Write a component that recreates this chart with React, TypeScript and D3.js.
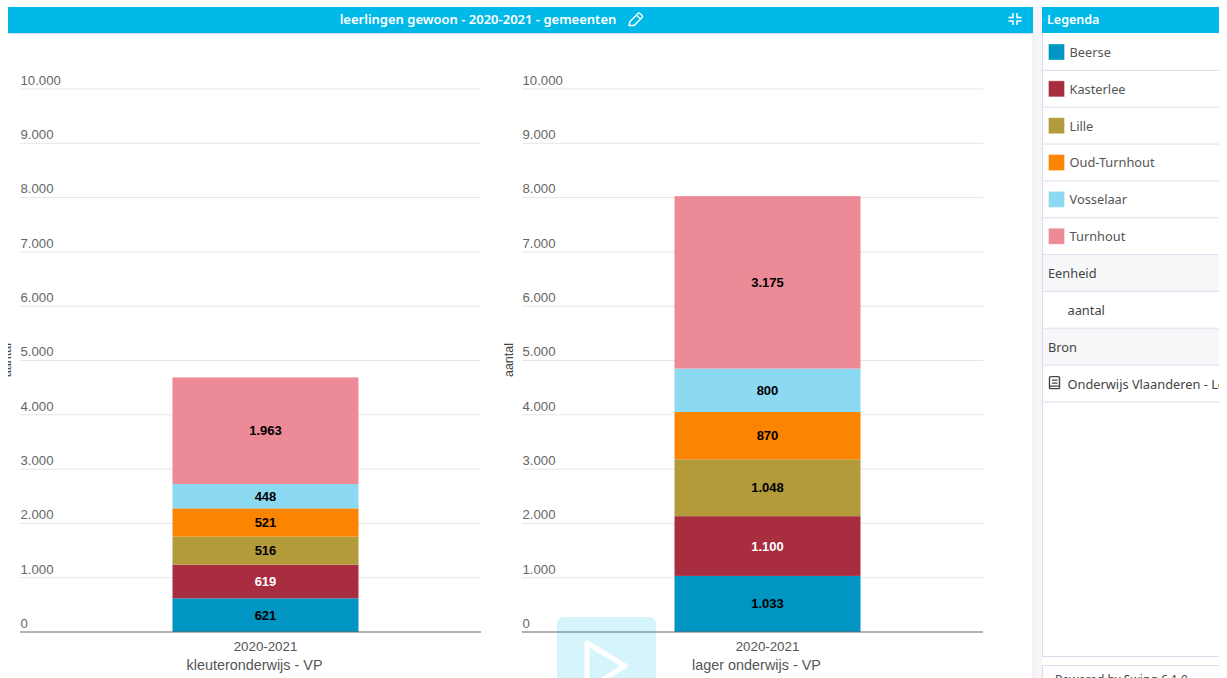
import React from "react";
import * as d3 from "d3";

const municipalities = ["Beerse", "Kasterlee", "Lille", "Oud-Turnhout", "Vosselaar", "Turnhout"];
const colors = ["#0095c2", "#a82e3f", "#b39a3b", "#fb8500", "#8cd9f2", "#ec8a97"];
const labelColors = ["#000", "#fff", "#000", "#000", "#000", "#000"];
const kleuterValues = [621, 619, 516, 521, 448, 1963];
const lagerValues = [1033, 1100, 1048, 870, 800, 3175];
const yTicks = [0, 1000, 2000, 3000, 4000, 5000, 6000, 7000, 8000, 9000, 10000];
const period = "2020-2021";
const title = "leerlingen gewoon - 2020-2021 - gemeenten";
const unitRows = ["aantal"];
const sourceRows = ["Onderwijs Vlaanderen - Leerlingen"];

const nl = d3.formatLocale({ decimal: ",", thousands: ".", grouping: [3], currency: ["€", ""] });
const fmt = nl.format(",d");
const y = d3.scaleLinear().domain([0, 10000]).range([632, 89]);

const chartFont = "'Liberation Sans', Arial, sans-serif";
const uiFont = "'Noto Sans', sans-serif";

function Panel({ x0, x1, values, cat, titleX, clipId }: any) {
  const xb = d3.scaleBand().domain([period]).range([x0 + 30, x1]);
  const cx = (xb(period) as number) + xb.bandwidth() / 2;
  const barW = 186;
  const stacked = d3.stack<any>().keys(municipalities)([
    Object.fromEntries(municipalities.map((m, i) => [m, values[i]])),
  ]);
  return (
    <g>
      {yTicks.slice(1).map((t) => (
        <line key={t} x1={x0} x2={x1} y1={y(t)} y2={y(t)} stroke="#e6e6e6" />
      ))}
      {yTicks.map((t) => (
        <text key={t} x={x0 + 0.5} y={y(t) - 4.2} fontFamily={chartFont} fontSize={13.2} fill="#666">
          {fmt(t)}
        </text>
      ))}
      {stacked.map((s, i) => (
        <rect key={i} x={cx - barW / 2} width={barW} y={y(s[0][1])} height={y(s[0][0]) - y(s[0][1])} fill={colors[i]} />
      ))}
      {stacked.map((s, i) => (
        <text
          key={i}
          x={cx}
          y={(y(s[0][0]) + y(s[0][1])) / 2 + 4.5}
          textAnchor="middle"
          fontFamily={chartFont}
          fontWeight="bold"
          fontSize={13}
          fill={labelColors[i]}
        >
          {fmt(values[i])}
        </text>
      ))}
      <line x1={x0} x2={x1} y1={632} y2={632} stroke="#666" strokeWidth={1.2} />
      <text x={cx} y={651} textAnchor="middle" fontFamily={chartFont} fontSize={13.3} fill="#555">{period}</text>
      <text x={cx - 11} y={670} textAnchor="middle" fontFamily={chartFont} fontSize={14.4} fill="#555">{cat}</text>
      <g clipPath={clipId ? `url(#${clipId})` : undefined}>
        <text
          transform={`translate(${titleX},360) rotate(-90)`}
          textAnchor="middle"
          fontFamily={chartFont}
          fontSize={12.5}
          fill="#444"
        >
          aantal
        </text>
      </g>
    </g>
  );
}

const rowH = 36.85;
const rowStart = 33.5;

export default function App() {
  return (
    <svg width={1227} height={678} style={{ position: "fixed", left: 0, top: 0 }}>
      <defs>
        <clipPath id="leftClip"><rect x={8} y={300} width={10} height={120} /></clipPath>
      </defs>
      <rect width={1227} height={678} fill="#fff" />
      <rect x={1033} y={7} width={9} height={671} fill="#f6f4f6" />
      <line x1={1033} x2={1033} y1={33} y2={678} stroke="#e8e8ee" />

      <rect x={8} y={7} width={1025} height={26} fill="#00b9e8" />
      <line x1={8} x2={1033} y1={33.5} y2={33.5} stroke="#dde" />
      <text x={478} y={24} textAnchor="middle" fontFamily={uiFont} fontWeight={600} fontSize={13} fill="#fff">{title}</text>
      <g transform="translate(628,12.5)" fill="none" stroke="#fff" strokeWidth={1.4}>
        <path d="M1 13 L2 9 L10 1 Q11 0 12 1 L14 3 Q15 4 14 5 L6 13 Z M8.5 2.5 L12.5 6.5" />
      </g>
      <g stroke="#fff" strokeWidth={1.5} fill="none">
        <path d="M1013 13 V17.5 H1008.5 M1017 13 V17.5 H1021.5 M1013 25 V21 H1008.5 M1017 25 V21 H1021.5" />
      </g>

      <Panel x0={20} x1={481} values={kleuterValues} cat="kleuteronderwijs - VP" titleX={11} clipId="leftClip" />
      <Panel x0={522} x1={983} values={lagerValues} cat="lager onderwijs - VP" titleX={513} />

      <rect x={557} y={617} width={99} height={70} rx={6} fill="#00b9e8" opacity={0.16} />
      <path d="M587 643 L625 666 L587 689 Z" fill="none" stroke="#fff" strokeWidth={5} strokeLinejoin="round" />

      {/* side panel */}
      <rect x={1042} y={7} width={177} height={649.5} fill="#fff" />
      <line x1={1042.5} x2={1042.5} y1={33} y2={657} stroke="#dcdcec" />
      <line x1={1042} x2={1219} y1={656.5} y2={656.5} stroke="#dcdcec" />
      <rect x={1042} y={7} width={177} height={26} fill="#00b9e8" />
      <text x={1047} y={24} fontFamily={uiFont} fontWeight={600} fontSize={12.5} fill="#fff">Legenda</text>

      {municipalities.map((m, i) => {
        const top = rowStart + i * rowH;
        return (
          <g key={m}>
            <rect x={1048.5} y={top + 10.5} width={16} height={16} fill={colors[i]} stroke="#fff" strokeOpacity={0.35} />
            <text x={1069.5} y={top + 23.4} fontFamily={uiFont} fontSize={12.8} fill="#555">{m}</text>
            <line x1={1043} x2={1219} y1={top + rowH} y2={top + rowH} stroke="#dcdcec" />
          </g>
        );
      })}

      <rect x={1043} y={rowStart + 6 * rowH + 0.5} width={176} height={rowH - 1} fill="#f6f7f9" />
      <text x={1048} y={rowStart + 6 * rowH + 23.4} fontFamily={uiFont} fontSize={12.8} fill="#444">Eenheid</text>
      <line x1={1043} x2={1219} y1={rowStart + 7 * rowH} y2={rowStart + 7 * rowH} stroke="#dcdcec" />
      {unitRows.map((u) => (
        <text key={u} x={1067.5} y={rowStart + 7 * rowH + 23.4} fontFamily={uiFont} fontSize={12.8} fill="#444">{u}</text>
      ))}
      <line x1={1043} x2={1219} y1={rowStart + 8 * rowH} y2={rowStart + 8 * rowH} stroke="#dcdcec" />
      <rect x={1043} y={rowStart + 8 * rowH + 0.5} width={176} height={rowH - 1} fill="#f6f7f9" />
      <text x={1048} y={rowStart + 8 * rowH + 23.4} fontFamily={uiFont} fontSize={12.8} fill="#444">Bron</text>
      <line x1={1043} x2={1219} y1={rowStart + 9 * rowH} y2={rowStart + 9 * rowH} stroke="#dcdcec" />
      <svg x={1043} y={rowStart + 9 * rowH} width={176} height={rowH}>
        <g fill="none" stroke="#444" strokeWidth={1.4}>
          <rect x={6.5} y={11.5} width={10} height={12} rx={1} />
          <path d="M9 15 H14.5 M9 18 H14.5 M6.5 21 H16.5" />
        </g>
        {sourceRows.map((s) => (
          <text key={s} x={24.5} y={23.4} fontFamily={uiFont} fontSize={12.8} fill="#444">{s}</text>
        ))}
      </svg>
      <line x1={1043} x2={1219} y1={rowStart + 10 * rowH} y2={rowStart + 10 * rowH} stroke="#dcdcec" />

      <rect x={1042.5} y={665.5} width={177} height={20} fill="#fff" stroke="#dcdcec" />
      <text x={1055} y={684} fontFamily={uiFont} fontSize={12} fill="#444">Powered by Swing 6.1.0</text>
      <rect x={1219} y={0} width={8} height={678} fill="#fff" />
    </svg>
  );
}
